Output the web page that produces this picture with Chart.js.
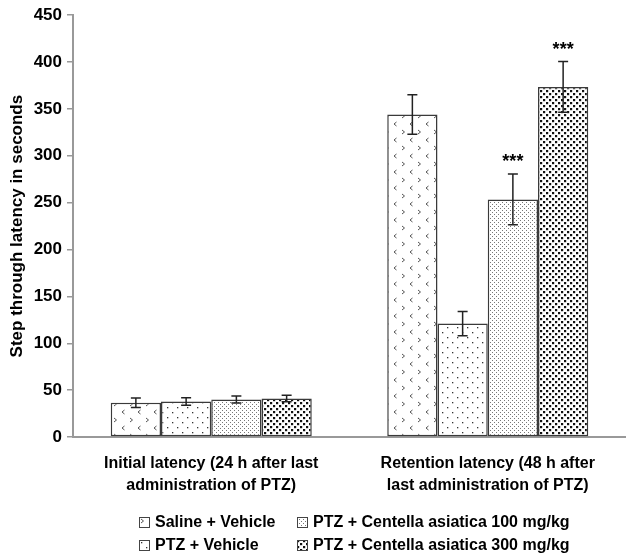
<!DOCTYPE html>
<html>
<head>
<meta charset="utf-8">
<script src="https://cdn.jsdelivr.net/npm/chart.js@4.4.1/dist/chart.umd.min.js"></script>
<style>
  html, body { margin: 0; padding: 0; background: #fff; }
  #wrap { position: relative; width: 626px; height: 556px; }
  #legend { position: absolute; left: 0; top: 0; width: 626px; height: 556px; pointer-events: none;
            font-family: "Liberation Sans", Arial, sans-serif; font-weight: bold; font-size: 16px; color: #000; }
  .li { position: absolute; display: flex; align-items: center; white-space: nowrap; height: 18px; }
  .li canvas { width: 11px; height: 11px; margin-right: 5px; }
</style>
</head>
<body>
<div id="wrap">
  <canvas id="c" width="626" height="556"></canvas>
  <div id="legend"></div>
</div>
<script>
// ---- data ----
const categories = [
  ["Initial latency (24 h after last", "administration of PTZ)"],
  ["Retention latency (48 h after", "last administration of PTZ)"]
];
const seriesNames = ["Saline + Vehicle", "PTZ + Vehicle", "PTZ + Centella asiatica 100 mg/kg", "PTZ + Centella asiatica 300 mg/kg"];
const salineVehicle = [36.5, 344];
const ptzVehicle = [38, 121];
const ptzCA100 = [40, 253.5];
const ptzCA300 = [41, 373.5];
const errSaline = [5, 21];
const errPtz = [4, 13];
const errCA100 = [3.7, 27];
const errCA300 = [3.5, 27];
const sigCA100 = ["", "***"];
const sigCA300 = ["", "***"];
const yTicks = [0, 50, 100, 150, 200, 250, 300, 350, 400, 450];

const FONT = '"Liberation Sans", Arial, sans-serif';

// ---- patterns ----
function makeTile(w, h, draw) {
  const c = document.createElement('canvas');
  c.width = w; c.height = h;
  const g = c.getContext('2d');
  g.fillStyle = '#fff'; g.fillRect(0, 0, w, h);
  draw(g);
  return c;
}
const tiles = [
  makeTile(16, 16, g => {
    g.strokeStyle = '#555'; g.lineWidth = 1;
    g.beginPath(); g.moveTo(2, 2); g.lineTo(4.5, 4); g.lineTo(2, 6); g.stroke();
    g.beginPath(); g.moveTo(12.5, 10); g.lineTo(10, 12); g.lineTo(12.5, 14); g.stroke();
  }),
  makeTile(10, 10, g => {
    g.fillStyle = '#333';
    g.fillRect(2, 2, 1.3, 1.3); g.fillRect(7, 7, 1.3, 1.3);
  }),
  makeTile(4, 4, g => {
    g.fillStyle = '#777';
    g.fillRect(0, 0, 1, 1); g.fillRect(2, 2, 1, 1);
  }),
  makeTile(6, 6, g => {
    g.fillStyle = '#111';
    g.fillRect(0, 0, 2.2, 2.2); g.fillRect(3, 3, 2.2, 2.2);
  })
];
const ctx = document.getElementById('c').getContext('2d');
const patterns = tiles.map(t => ctx.createPattern(t, 'repeat'));

const values = [salineVehicle, ptzVehicle, ptzCA100, ptzCA300];
const errors = [errSaline, errPtz, errCA100, errCA300];
const sigs = [null, null, sigCA100, sigCA300];

const datasets = values.map((v, i) => ({
  label: seriesNames[i],
  data: v,
  backgroundColor: patterns[i],
  borderColor: '#3a3a3a',
  borderWidth: 1.5,
  borderSkipped: false,
  categoryPercentage: 0.727,
  barPercentage: 1.0
}));

const errorPlugin = {
  id: 'errorBars',
  afterDatasetsDraw(chart) {
    const g = chart.ctx;
    const y = chart.scales.y;
    g.save();
    chart.data.datasets.forEach((ds, di) => {
      const meta = chart.getDatasetMeta(di);
      meta.data.forEach((bar, j) => {
        const v = values[di][j], e = errors[di][j];
        const yt = y.getPixelForValue(v + e), yb = y.getPixelForValue(v - e);
        const x = bar.x;
        g.strokeStyle = '#222'; g.lineWidth = 1.5;
        g.beginPath();
        g.moveTo(x, yt); g.lineTo(x, yb);
        g.moveTo(x - 5, yt); g.lineTo(x + 5, yt);
        g.moveTo(x - 5, yb); g.lineTo(x + 5, yb);
        g.stroke();
        if (sigs[di] && sigs[di][j]) {
          g.fillStyle = '#000';
          g.font = 'bold 18px ' + FONT;
          g.textAlign = 'center'; g.textBaseline = 'middle';
          g.fillText(sigs[di][j], x, yt - 12);
        }
      });
    });
    g.restore();
  }
};

new Chart(ctx, {
  type: 'bar',
  data: { labels: categories, datasets },
  options: {
    responsive: false,
    animation: false,
    layout: { padding: { top: 14, left: 0, right: 0, bottom: 0 } },
    plugins: { legend: { display: false }, tooltip: { enabled: false } },
    scales: {
      x: {
        grid: { display: false, drawTicks: false },
        border: { display: true, color: '#999', width: 2 },
        ticks: {
          color: '#000', padding: 16,
          font: { family: FONT, weight: 'bold', size: 16, lineHeight: 1.375 }
        },
        afterFit(s) { s.height = 119; }
      },
      y: {
        min: 0, max: 450,
        afterBuildTicks(s) { s.ticks = yTicks.map(v => ({ value: v })); },
        grid: { display: true, drawOnChartArea: false, drawTicks: true, tickLength: 6, color: '#999', lineWidth: 1.5 },
        border: { display: true, color: '#999', width: 2 },
        ticks: {
          color: '#000', padding: 5,
          font: { family: FONT, weight: 'bold', size: 17 }
        },
        title: {
          display: true, text: 'Step through latency in seconds', color: '#000',
          padding: { top: 7, bottom: 0 },
          font: { family: FONT, weight: 'bold', size: 17 }
        },
        afterFit(s) { s.width = 73; }
      }
    }
  },
  plugins: [errorPlugin]
});

// ---- legend (HTML) ----
const legendPos = [
  { left: 139, top: 513 }, { left: 139, top: 536 },
  { left: 297, top: 513 }, { left: 297, top: 536 }
];
const leg = document.getElementById('legend');
seriesNames.forEach((name, i) => {
  const d = document.createElement('div');
  d.className = 'li';
  d.style.left = legendPos[i].left + 'px';
  d.style.top = legendPos[i].top + 'px';
  const sw = document.createElement('canvas');
  sw.width = 11; sw.height = 11;
  const sg = sw.getContext('2d');
  sg.fillStyle = sg.createPattern(tiles[i], 'repeat');
  sg.fillRect(0, 0, 11, 11);
  sg.strokeStyle = '#444'; sg.lineWidth = 1;
  sg.strokeRect(0.5, 0.5, 10, 10);
  d.appendChild(sw);
  const t = document.createElement('span');
  t.textContent = name;
  d.appendChild(t);
  leg.appendChild(d);
});
</script>
</body>
</html>
